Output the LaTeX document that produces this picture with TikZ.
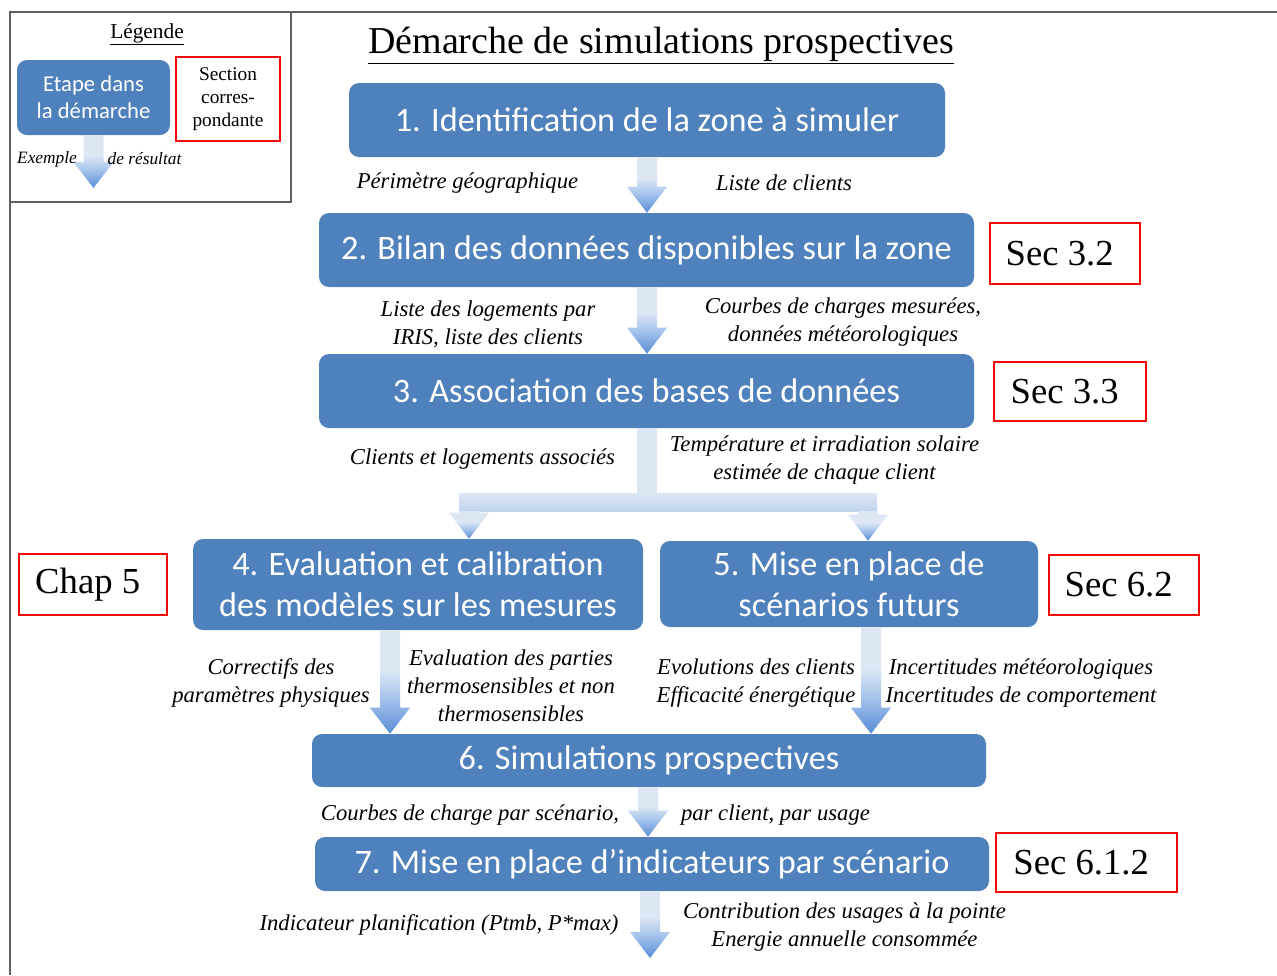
\documentclass[tikz,border=0pt]{standalone}
\usepackage{fontspec}
\setmainfont{Liberation Serif}
\newfontfamily\boxfont{Carlito}
\usetikzlibrary{calc}
\definecolor{boxblue}{RGB}{79,129,189}
\definecolor{secred}{RGB}{245,8,12}
\definecolor{alight}{RGB}{221,231,244}
\definecolor{amid}{RGB}{165,195,236}
\definecolor{adark}{RGB}{88,140,214}
\definecolor{barlow}{RGB}{192,212,239}
\definecolor{framegray}{RGB}{95,95,95}
\pgfdeclareverticalshading{garrow}{100bp}{color(0bp)=(adark); color(25bp)=(adark); color(42bp)=(amid); color(56bp)=(alight); color(75bp)=(alight); color(100bp)=(alight)}
\tikzset{
  stepbox/.style={fill=boxblue, rounded corners=7.5pt, text=white,
    font=\boxfont\fontsize{25.7}{31}\selectfont, align=center, inner sep=0pt},
  secbox/.style={draw=secred, line width=1.6pt, font=\fontsize{27.5}{32}\selectfont, inner sep=0pt,
    execute at begin node={\hspace*{-8pt}}},
  lab/.style={font=\itshape\fontsize{17}{21}\selectfont, align=center, inner sep=0pt, yshift=-1.5pt},
  frameline/.style={draw=framegray, line width=1.2pt},
}
\newcommand\gradarrow[2]{%
  \shade[shading=garrow] let \p1=(#1), \p2=(#2) in
  (\x1-7.5pt,\y1) -- (\x1-7.5pt,\y2+19.5pt) -- (\x1-15pt,\y2+19.5pt) -- (\x1,\y2)
  -- (\x1+15pt,\y2+19.5pt) -- (\x1+7.5pt,\y2+19.5pt) -- (\x1+7.5pt,\y1) -- cycle;}
\begin{document}
\begin{tikzpicture}[x=0.75pt,y=-0.75pt]
\useasboundingbox (0,0) rectangle (1277,975);
% frame
\draw[frameline] (10,975) -- (10,12) -- (1277,12);
\draw[frameline] (10,202) -- (291,202) -- (291,12);
% legend
\node[font=\fontsize{16}{19}\selectfont] (leg) at (147,34.5) {\underline{Légende}};
\node[stepbox, font=\boxfont\fontsize{17}{20}\selectfont, minimum width=114.75pt, minimum height=56.25pt] (lstep) at (93.5,97.5) {Etape dans\\la démarche};
\node[draw=secred, line width=1.6pt, inner sep=0pt, font=\fontsize{14.5}{17}\selectfont, align=center, minimum width=78pt, minimum height=63pt] (lsec) at (228,99) {Section\\corres-\\pondante};
\coordinate (lend) at (93,188);
\gradarrow{lstep.south}{lend}
\node[lab, font=\itshape\fontsize{13}{16}\selectfont] (lex1) at (47,157) {Exemple};
\node[lab, font=\itshape\fontsize{13}{16}\selectfont] (lex2) at (144.5,157) {de résultat};
% title
\node[font=\fontsize{28.5}{33}\selectfont] (title) at (661,45.5) {\underline{Démarche de simulations prospectives}};
% steps
\node[stepbox, minimum width=447pt, minimum height=55.5pt] (b1) at (647,120) {1. Identification de la zone à simuler};
\node[stepbox, minimum width=491.25pt, minimum height=55.5pt] (b2) at (646.5,250) {2. Bilan des données disponibles sur la zone};
\node[stepbox, minimum width=491.25pt, minimum height=55.5pt] (b3) at (646.5,391) {3. Association des bases de données};
\node[stepbox, minimum width=337.5pt, minimum height=68.25pt] (b4) at (418,584.5) {4. Evaluation et calibration\\des modèles sur les mesures};
\node[stepbox, minimum width=283.5pt, minimum height=64.5pt] (b5) at (849,584) {5. Mise en place de\\scénarios futurs};
\node[stepbox, minimum width=505.5pt, minimum height=39.75pt] (b6) at (649,760.5) {6. Simulations prospectives};
\node[stepbox, minimum width=505.5pt, minimum height=40.5pt] (b7) at (652,864) {7. Mise en place d’indicateurs par scénario};
% section boxes
\node[secbox, minimum width=112.5pt, minimum height=45.75pt] (s32) at (1065,253.5) {Sec 3.2};
\node[secbox, minimum width=114pt, minimum height=44.25pt] (s33) at (1070,391.5) {Sec 3.3};
\node[secbox, minimum width=111pt, minimum height=45.75pt] (c5) at (93,584.5) {Chap 5};
\node[secbox, minimum width=112.5pt, minimum height=45pt] (s62) at (1124,585) {Sec 6.2};
\node[secbox, minimum width=135.75pt, minimum height=44.25pt] (s612) at (1086.5,862.5) {Sec 6.1.2};
% arrows
\gradarrow{647,0 |- b1.south}{647,0 |- b2.north}
\gradarrow{647,0 |- b2.south}{647,0 |- b3.north}
\coordinate (barTL) at (459,493);
\coordinate (barBR) at (877,511);
\shade[top color=alight, bottom color=alight] let \p1=(647,0 |- b3.south), \p2=(barTL) in
  (\x1-7.5pt,\y1) rectangle (\x1+7.5pt,\y2);
\shade[top color=alight, bottom color=barlow] (barTL) rectangle (barBR);
\gradarrow{469,0 |- barBR}{469,0 |- b4.north}
\gradarrow{868,0 |- barBR}{868,0 |- b5.north}
\gradarrow{390,0 |- b4.south}{390,0 |- b6.north}
\gradarrow{871,0 |- b5.south}{871,0 |- b6.north}
\gradarrow{648,0 |- b6.south}{648,0 |- b7.north}
\coordinate (end7) at (650,958);
\gradarrow{650,0 |- b7.south}{end7}
% labels
\node[lab] (l1a) at (467.5,181) {Périmètre géographique};
\node[lab] (l1b) at (784,181) {Liste de clients};
\node[lab] (l2a) at (488,322) {Liste des logements par\\IRIS, liste des clients};
\node[lab] (l2b) at (843,320) {Courbes de charges mesurées,\\données météorologiques};
\node[lab] (l3a) at (482.5,457) {Clients et logements associés};
\node[lab] (l3b) at (824.5,458) {Température et irradiation solaire\\estimée de chaque client};
\node[lab] (l4a) at (271,681) {Correctifs des\\paramètres physiques};
\node[lab] (l4b) at (511,683.5) {Evaluation des parties\\thermosensibles et non\\thermosensibles};
\node[lab] (l5a) at (756,681) {Evolutions des clients\\Efficacité énergétique};
\node[lab] (l5b) at (1021,681) {Incertitudes météorologiques\\Incertitudes de comportement};
\node[lab] (l6a) at (470,813) {Courbes de charge par scénario,};
\node[lab] (l6b) at (775.5,813) {par client, par usage};
\node[lab] (l7a) at (439,923) {Indicateur planification (Ptmb, P*max)};
\node[lab] (l7b) at (844.5,925) {Contribution des usages à la pointe\\Energie annuelle consommée};
\end{tikzpicture}
\end{document}
